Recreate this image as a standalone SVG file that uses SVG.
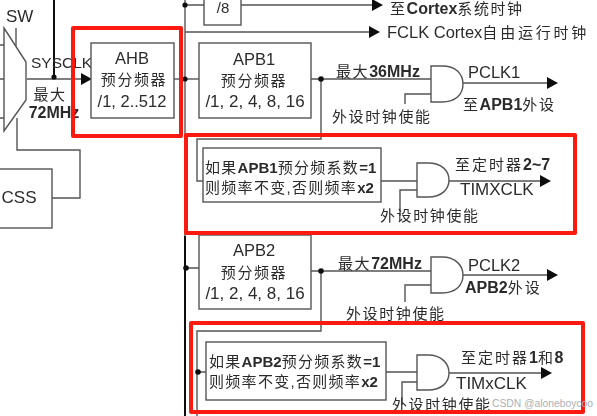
<svg xmlns="http://www.w3.org/2000/svg" width="597" height="416" viewBox="0 0 597 416">
<style>
text{font-family:"Liberation Sans","Noto Sans CJK SC",sans-serif;font-size:16.5px;fill:#2c2c2c}
.m{text-anchor:middle}
.cj{font-size:15px;letter-spacing:1.6px}
.b{font-weight:700;font-size:16px}
.s .cj{letter-spacing:1.3px}
.s .b{font-size:15px}
.ln{fill:none;stroke:#555;stroke-width:1.4}
.th{fill:none;stroke:#111;stroke-width:2}
.box{fill:#fff;stroke:#555;stroke-width:1.4}
.dot{fill:#111}
.red{fill:none;stroke:#fb1a10;stroke-width:4;stroke-linejoin:round}
.wm{font-size:10.3px;fill:#aab0b6}
</style>
<defs>
<marker id="ah" markerWidth="11" markerHeight="12" refX="0" refY="6" orient="auto" markerUnits="userSpaceOnUse"><path d="M0 0L11 6L0 12Z" fill="#111"/></marker>
<filter id="soft" x="0" y="0" width="100%" height="100%"><feGaussianBlur stdDeviation="0.35"/></filter>
</defs>
<rect width="597" height="416" fill="#fff"/>
<g filter="url(#soft)">
<g id="connectors">
<path class="ln" d="M0 45H4M0 79H4M0 118H4M16 28V46"/>
<path class="th" d="M54 0V79"/>
<path class="ln" d="M27 79H81" marker-end="url(#ah)"/>
<path class="ln" d="M52 198H80V150H17V118"/>
<path class="ln" d="M174 79H199"/>
<path class="ln" d="M185 0V236"/>
<path class="th" d="M185 236V416"/>
<path class="ln" d="M185 5H204M241 5H372" marker-end="url(#ah)"/>
<path class="ln" d="M185 32H369" marker-end="url(#ah)"/>
<path class="ln" d="M311 79H431M321 79V139H197V181H203"/>
<path class="ln" d="M405 104V94H431M463 83H547" marker-end="url(#ah)"/>
<path class="ln" d="M381 181H417M400 216V190H417M449 181H540" marker-end="url(#ah)"/>
<path class="ln" d="M185 268H199M311 271H431M321 271V331H197V416M197 372H206"/>
<path class="ln" d="M405 302V285H431M463 275H547" marker-end="url(#ah)"/>
<path class="ln" d="M386 372H417M402 405V382H417M449 373H541" marker-end="url(#ah)"/>
<g class="dot"><circle cx="54" cy="77" r="2.6"/><circle cx="185" cy="5" r="2.6"/><circle cx="185" cy="79" r="2.6"/><circle cx="321" cy="79" r="2.8"/><circle cx="186" cy="268" r="2.8"/><circle cx="321" cy="271" r="2.8"/><circle cx="198" cy="372" r="2.8"/></g>
</g>
<g id="mux"><path class="box" d="M4 28L26 62V100L4 131Z"/><text x="6" y="22" style="font-size:17px">SW</text></g>
<g id="sysclk"><text x="31" y="68" style="font-size:15.5px">SYSCLK</text><text x="50" y="100" class="m cj">最大</text><text x="54" y="118" class="m b">72MHz</text></g>
<g id="css"><rect class="box" x="-2" y="169" width="54" height="59"/><text x="19" y="203" class="m" style="font-size:17px">CSS</text></g>
<g id="ahb"><rect class="box" x="91" y="43" width="83" height="75"/><text x="132" y="64" class="m">AHB</text><text x="134" y="85" class="m cj">预分频器</text><text x="132" y="107" class="m">/1, 2..512</text></g>
<g id="div8"><rect class="box" x="204" y="-2" width="37" height="27"/><text x="223" y="13" class="m" style="font-size:15px">/8</text></g>
<g id="cortex-out"><text x="390" y="14"><tspan class="cj">至</tspan><tspan class="b">Cortex</tspan><tspan class="cj">系统时钟</tspan></text></g>
<g id="fclk-out"><text x="387" y="38">FCLK Cortex<tspan class="cj" style="letter-spacing:2.8px">自由运行时钟</tspan></text></g>
<g id="apb1"><rect class="box" x="199" y="43" width="112" height="75"/><text x="254" y="65" class="m">APB1</text><text x="254" y="86" class="m cj">预分频器</text><text x="255" y="107" class="m" style="font-size:17px">/1, 2, 4, 8, 16</text></g>
<g id="gate-pclk1"><path class="box" d="M431 66H442C456 66 463 74 463 84C463 94 456 102 442 102H431Z"/><text x="336" y="77"><tspan class="cj">最大</tspan><tspan class="b">36MHz</tspan></text><text x="468" y="78">PCLK1</text><text x="463" y="110"><tspan class="cj">至</tspan><tspan class="b">APB1</tspan><tspan class="cj">外设</tspan></text><text x="332" y="122" class="cj">外设时钟使能</text></g>
<g id="timx-mult" class="s"><rect class="box" x="203" y="148" width="178" height="54"/><text x="205" y="173"><tspan class="cj">如果</tspan><tspan class="b">APB1</tspan><tspan class="cj">预分频系数</tspan><tspan class="b">=1</tspan></text><text x="205" y="193"><tspan class="cj">则频率不变,否则频率</tspan><tspan class="b">x2</tspan></text></g>
<g id="gate-timx"><path class="box" d="M417 163H428C442 163 449 171 449 180C449 189 442 197 428 197H417Z"/><text x="455" y="170"><tspan class="cj" style="letter-spacing:2px">至定时器</tspan><tspan class="b">2~7</tspan></text><text x="460" y="195" style="font-size:17px">TIMXCLK</text><text x="380" y="221" class="cj">外设时钟使能</text></g>
<g id="apb2"><rect class="box" x="199" y="235" width="112" height="74"/><text x="254" y="256" class="m">APB2</text><text x="254" y="278" class="m cj">预分频器</text><text x="255" y="299" class="m" style="font-size:17px">/1, 2, 4, 8, 16</text></g>
<g id="gate-pclk2"><path class="box" d="M431 257H442C456 257 463 266 463 275C463 285 456 293 442 293H431Z"/><text x="338" y="269"><tspan class="cj">最大</tspan><tspan class="b">72MHz</tspan></text><text x="468" y="271">PCLK2</text><text x="465" y="293"><tspan class="b">APB2</tspan><tspan class="cj" style="letter-spacing:2px">外设</tspan></text><text x="346" y="319" class="cj">外设时钟使能</text></g>
<g id="tim1-mult" class="s"><rect class="box" x="206" y="342" width="180" height="58"/><text x="209" y="367"><tspan class="cj">如果</tspan><tspan class="b">APB2</tspan><tspan class="cj">预分频系数</tspan><tspan class="b">=1</tspan></text><text x="209" y="387"><tspan class="cj">则频率不变,否则频率</tspan><tspan class="b">x2</tspan></text></g>
<g id="gate-tim1"><path class="box" d="M417 355H428C442 355 449 364 449 373C449 382 442 390 428 390H417Z"/><text x="461" y="363"><tspan class="cj" style="letter-spacing:2px">至定时器</tspan><tspan class="b">1</tspan><tspan class="cj">和</tspan><tspan class="b">8</tspan></text><text x="456" y="389" style="font-size:17px">TIMxCLK</text><text x="392" y="410" class="cj">外设时钟使能</text></g>
</g>
<g id="highlights"><rect class="red" x="73" y="28" width="108" height="108"/><rect class="red" x="186" y="135" width="389" height="98"/><rect class="red" x="191" y="323" width="392" height="89"/></g>
<text class="wm" x="492" y="407">CSDN @aloneboycoo</text>
</svg>
